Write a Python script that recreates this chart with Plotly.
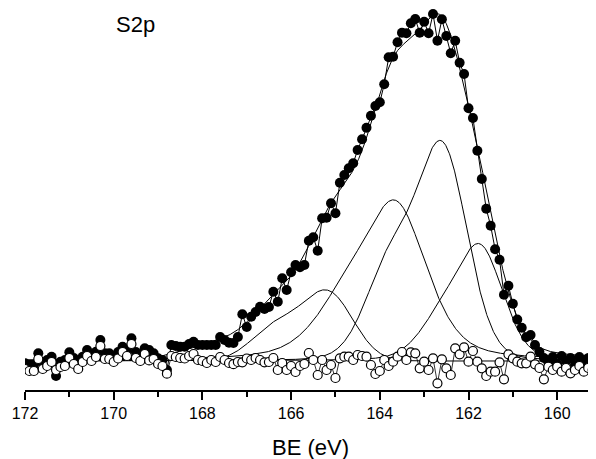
import numpy as np
import plotly.graph_objects as go

# ---- measured spectrum (0.1 eV steps from 172.0 eV) ----
be_start = 172.0
be_step = 0.1
intensity = [26.7, 25, 25, 36.7, 26.7, 30, 33.3, 14, 28.3, 30,
             37.7, 32, 26.7, 33.3, 40, 35, 38.3, 50, 36.7, 36.7,
             33.3, 38, 43.3, 40, 51.7, 38, 35, 41.7, 40, 36.7,
             31.7, 30, 20, 45, 44, 43.3, 43.3, 46, 48.3, 45,
             45, 45, 45, 45, 53, 50, 47.3, 47, 53, 75.7,
             63, 73.3, 78, 83.3, 81, 83, 98.3, 88.3, 111.7, 100,
             117.7, 125, 122.7, 125, 149.3, 152.7, 139.3, 171.7, 172.3, 186.7,
             176.7, 207.3, 215, 221.7, 226.7, 240, 250.7, 262.3, 274.3, 284,
             287.7, 305.7, 332.7, 333.3, 347.7, 357.3, 356.7, 366.7, 371, 357.3,
             368.3, 356.7, 376, 349.3, 370.7, 354, 336.7, 349.3, 327.3, 316,
             281.7, 272, 239.3, 211, 181.3, 164.2, 140.8, 130.3, 95.3, 104.2,
             86.3, 70.5, 62.3, 52.7, 55, 45, 38, 32, 28, 33,
             26, 34, 29, 32, 25, 33, 28, 32, 27, 33]

# residuals (plotted with offset)
residual = [21, 19, 19, 31, 21, 24, 28, 20, 23, 24,
            32, 26, 21, 28, 34, 29, 33, 44, 31, 31,
            28, 31.5, 38, 34, 46, 32, 29, 36, 29.6, 31,
            26, 24, 16.3, 34, 33, 32, 31.5, 34, 36, 30,
            29, 27, 30, 28, 33, 30, 27, 25.8, 28, 27.7,
            31.5, 30, 32, 30, 27.7, 28, 32, 20, 27, 20,
            24, 18, 24, 26, 37, 30, 15, 30, 20, 25,
            12, 31.7, 33.3, 33.3, 30, 35, 34, 33.3, 25, 16,
            19, 30, 24, 28.3, 33.3, 38, 30, 37.7, 36.7, 21.7,
            28.3, 20, 31.7, 6.7, 30.7, 21.7, 15, 41.7, 35.7, 42.7,
            28.3, 39, 28.3, 21.7, 14, 18.3, 18.3, 27.7, 10.7, 35.7,
            31.7, 28.3, 26.7, 26.7, 33.3, 25.7, 22, 10.7, 23.3, 20,
            23.3, 18.3, 22, 16.7, 20, 24, 18.3, 22, 20, 23]

# ---- fitted S2p components (doublets, pseudo-Voigt) ----
peak_center = [161.72, 162.58, 163.62, 165.16]
peak_height = [108, 208, 147, 67]
peak_hwhm = [0.60, 0.66, 0.82, 0.66]
peak_lorentz = [0.2, 0.1, 0.4, 0.0]
doublet_ratio = [0.35, 0.45, 0.33, 0.50]
doublet_split = [0.90, 1.18, 1.18, 1.18]
baseline = 29
shirley_step = 15
left_slope = 10.2
left_knee = 167.67

tick_values = [172, 170, 168, 166, 164, 162, 160]
minor_tick_values = [171, 169, 167, 165, 163, 161, 159]

be = np.round(be_start - be_step * np.arange(len(intensity)), 2)
fine = np.linspace(172.0, 159.1, 1291)


def pvoigt(E, c, w, m):
    u = ((E - c) / w) ** 2
    return (1 - m) * np.exp(-np.log(2) * u) + m / (1 + u)


def component(E, c, h, w, m, r, d):
    return h * (pvoigt(E, c, w, m) + r * pvoigt(E, c + d, w, m))


comps = [component(fine, *p) for p in
         zip(peak_center, peak_height, peak_hwhm, peak_lorentz,
             doublet_ratio, doublet_split)]
total = np.sum(comps, axis=0)
cum = np.cumsum(total[::-1])[::-1]
frac = cum / cum[0]
bg = baseline + np.maximum(shirley_step * frac
                           - left_slope * np.maximum(fine - left_knee, 0), 0)
envelope = bg + total

FONT = "Liberation Sans, Arial, sans-serif"
fig = go.Figure()
for comp in comps:
    fig.add_trace(go.Scatter(x=fine, y=baseline + comp, mode="lines",
                             line=dict(color="black", width=1), hoverinfo="skip"))
fig.add_trace(go.Scatter(x=fine, y=envelope, mode="lines",
                         line=dict(color="black", width=1)))
fig.add_trace(go.Scatter(x=be, y=intensity, mode="lines+markers",
                         line=dict(color="black", width=1),
                         marker=dict(size=10, color="black")))
fig.add_trace(go.Scatter(x=be, y=residual, mode="lines+markers",
                         line=dict(color="black", width=0.8),
                         marker=dict(size=9, color="white",
                                     line=dict(color="black", width=1.2))))

# page body has an 8 px margin: figure is sized/offset to compensate
fig.update_layout(
    width=588, height=451,
    margin=dict(l=17, r=0, t=0, b=69, autoexpand=False),
    paper_bgcolor="white", plot_bgcolor="white",
    showlegend=False,
    font=dict(family=FONT, color="black"),
    xaxis=dict(range=[172, 159.125], tickmode="array", tickvals=tick_values,
               ticktext=[str(v) for v in tick_values],
               ticks="outside", ticklen=8, tickwidth=1.5, tickcolor="black",
               minor=dict(tickmode="array", tickvals=minor_tick_values,
                          ticks="outside", ticklen=5, tickwidth=1.5,
                          tickcolor="black", showgrid=False),
               showline=True, linecolor="black", linewidth=1.5,
               showgrid=False, zeroline=False,
               tickfont=dict(size=16, family=FONT, color="black")),
    yaxis=dict(visible=False, range=[0, 382]),
    annotations=[
        dict(text="S2p", x=(127.5 - 17) / 571, y=(382 - 16) / 382,
             xref="paper", yref="paper", showarrow=False,
             xanchor="center", yanchor="middle",
             font=dict(size=22, family=FONT, color="black")),
        dict(text="BE (eV)", x=0.5, y=(382 - 439) / 382,
             xref="paper", yref="paper", showarrow=False,
             xanchor="center", yanchor="middle",
             font=dict(size=22, family=FONT, color="black")),
    ],
)

fig.write_html("out.html")
